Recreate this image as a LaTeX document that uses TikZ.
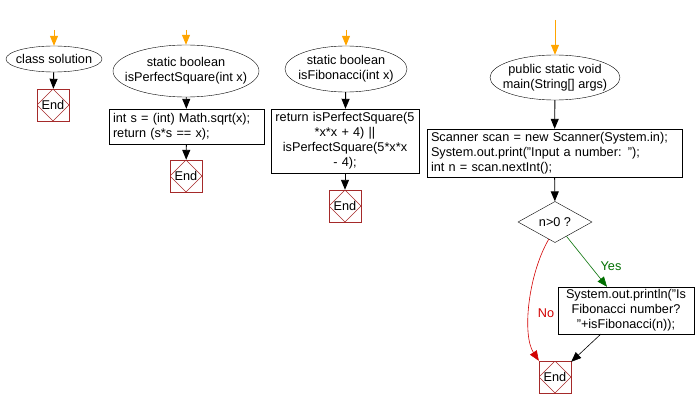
\documentclass[tikz,border=0pt]{standalone}
\usepackage{fontspec}
\setmainfont{Liberation Sans}
\usepackage{xcolor}
\usetikzlibrary{arrows.meta,shapes.geometric}
\definecolor{startor}{RGB}{255,165,0}
\definecolor{endred}{RGB}{165,42,42}
\definecolor{yesgreen}{RGB}{0,110,0}
\definecolor{nored}{RGB}{210,0,0}

\begin{document}
\begin{tikzpicture}[x=1pt,y=-1pt,
    font=\fontsize{12.7}{15}\selectfont,
    term/.style 2 args={ellipse,draw,inner sep=0pt,minimum width=#1pt,minimum height=#2pt},
    code/.style={rectangle,draw,inner xsep=4pt,inner ysep=0pt,align=left},
    codec/.style={rectangle,draw,inner xsep=4pt,inner ysep=0pt,align=center},
    endbox/.style={rectangle,draw=endred,minimum size=32pt,inner sep=0pt,
        path picture={\draw[endred] (path picture bounding box.north) -- (path picture bounding box.east)
            -- (path picture bounding box.south) -- (path picture bounding box.west) -- cycle;}},
    test/.style={diamond,draw,minimum width=74pt,minimum height=40pt,inner sep=0pt},
    flow/.style={-{Triangle[length=10pt,width=8pt]},line width=0.9pt},
    entry/.style={flow,startor},
    yes/.style={-{Triangle[length=10pt,width=8pt]},line width=0.6pt,yesgreen},
    no/.style={-{Triangle[length=10pt,width=8pt]},line width=0.6pt,nored}
]
\useasboundingbox (0,0) rectangle (696,409);

%%% class solution
\coordinate (s1) at (54,30);
\node[term={96}{26},label={center:class solution}] (cls) at (54,59) {};
\node[endbox] (end1) at (53,105) {End};
\draw[entry] (s1) -- (cls);
\draw[flow] (cls) -- (end1);

%%% isPerfectSquare
\coordinate (s2) at (186,30);
\node[term={146}{52},label={[align=center]center:static boolean\\isPerfectSquare(int x)}] (psq) at (186,71) {};
\node[code,text width=147pt,minimum height=35pt] (psqbody) at (186.5,126.5)
    {int s = (int) Math.sqrt(x);\\return (s*s == x);};
\node[endbox] (end2) at (186,176) {End};
\draw[entry] (s2) -- (psq);
\draw[flow] (psq) -- (psqbody);
\draw[flow] (psqbody) -- (end2);

%%% isFibonacci
\coordinate (s3) at (346,30);
\node[term={122}{46},label={[align=center]center:static boolean\\isFibonacci(int x)}] (fib) at (346,69) {};
\node[codec,text width=140pt,minimum height=64pt] (fibbody) at (345,141)
    {return isPerfectSquare(5\\{}*x*x + 4) ||\\isPerfectSquare(5*x*x\\- 4);};
\node[endbox] (end3) at (345,206) {End};
\draw[entry] (s3) -- (fib);
\draw[flow] (fib) -- (fibbody);
\draw[flow] (fibbody) -- (end3);

%%% main
\coordinate (s4) at (555,20);
\node[term={130}{45},label={[align=center]center:{public static void\\main(String[] args)}}] (main) at (555,77.5) {};
\node[code,text width=247pt,minimum height=48pt] (mainbody) at (554.5,153)
    {Scanner scan = new Scanner(System.in);\\System.out.print("Input a number: ");\\int n = scan.nextInt();};
\node[test] (chk) at (555,222) {n>0 ?};
\node[codec,text width=128pt,minimum height=47pt] (print) at (626,310.5)
    {System.out.println("Is\\Fibonacci number?\\"+isFibonacci(n));};
\node[endbox] (end4) at (555,377) {End};
\draw[entry] (s4) -- (main);
\draw[flow] (main) -- (mainbody);
\draw[flow] (mainbody) -- (chk);
\draw[yes] (chk) -- (print);
\node[yesgreen] (yeslbl) at (611,266) {Yes};
\draw[no] (chk.250) .. controls (528,275) and (522,335) .. (end4.north west);
\node[nored] (nolbl) at (546,313) {No};
\draw[-{Triangle[length=10pt,width=8pt]},line width=0.6pt] (print) -- (end4);
\end{tikzpicture}
\end{document}
